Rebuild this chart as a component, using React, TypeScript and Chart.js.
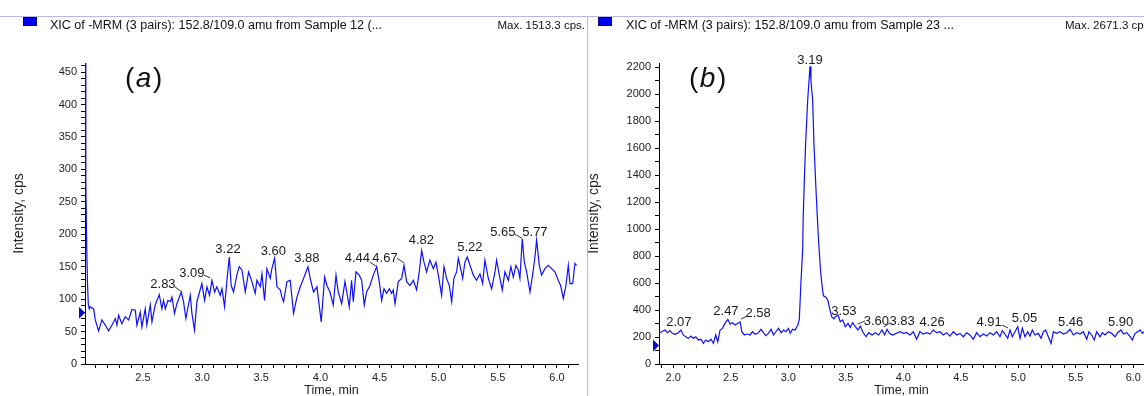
import React, { useEffect, useRef } from 'react';
import { Chart, registerables } from 'chart.js';

Chart.register(...registerables);

const FONT = '"Liberation Sans", Arial, sans-serif';

// ---- Panel (a): time (min), intensity (cps)
const traceA: [number, number][] = [
  [2.011, 1513], [2.017, 280], [2.024, 185], [2.031, 125], [2.038, 92], [2.046, 85], [2.054, 88], [2.083, 85],
  [2.097, 68], [2.125, 51], [2.153, 68], [2.181, 60], [2.209, 51], [2.238, 60], [2.266, 70], [2.280, 60],
  [2.294, 75], [2.322, 62], [2.350, 73], [2.379, 68], [2.407, 84], [2.435, 83], [2.449, 60], [2.477, 80],
  [2.491, 57], [2.519, 85], [2.533, 60], [2.562, 91], [2.576, 65], [2.604, 91], [2.638, 107], [2.660, 85],
  [2.674, 98], [2.689, 85], [2.711, 98], [2.731, 96], [2.745, 103], [2.767, 78], [2.787, 93], [2.824, 111],
  [2.843, 96], [2.863, 70], [2.900, 106], [2.914, 78], [2.936, 52], [2.956, 96], [2.998, 124], [3.021, 98],
  [3.041, 119], [3.063, 106], [3.083, 129], [3.106, 111], [3.125, 119], [3.153, 106], [3.168, 116], [3.190, 88],
  [3.210, 129], [3.230, 165], [3.246, 121], [3.266, 111], [3.294, 137], [3.314, 150], [3.337, 145], [3.365, 111],
  [3.393, 142], [3.421, 127], [3.449, 109], [3.463, 129], [3.492, 119], [3.506, 139], [3.528, 98], [3.548, 147],
  [3.576, 132], [3.590, 147], [3.613, 163], [3.633, 119], [3.661, 114], [3.675, 103], [3.689, 96], [3.717, 127],
  [3.745, 129], [3.773, 78], [3.802, 103], [3.830, 119], [3.858, 132], [3.895, 150], [3.914, 132], [3.942, 111],
  [3.971, 119], [4.007, 65], [4.036, 134], [4.055, 121], [4.081, 111], [4.109, 91], [4.132, 137], [4.151, 111],
  [4.180, 93], [4.208, 127], [4.228, 106], [4.244, 88], [4.264, 129], [4.278, 96], [4.301, 142], [4.329, 137],
  [4.349, 129], [4.371, 91], [4.391, 111], [4.419, 121], [4.447, 137], [4.476, 150], [4.498, 127], [4.518, 98],
  [4.538, 116], [4.560, 109], [4.583, 116], [4.602, 109], [4.616, 114], [4.631, 93], [4.659, 127], [4.687, 132],
  [4.707, 152], [4.729, 127], [4.757, 121], [4.786, 129], [4.814, 114], [4.836, 142], [4.856, 175], [4.876, 157],
  [4.898, 142], [4.926, 160], [4.955, 147], [4.977, 157], [4.997, 137], [5.025, 106], [5.045, 150], [5.067, 132],
  [5.090, 121], [5.110, 96], [5.129, 132], [5.152, 142], [5.166, 163], [5.186, 147], [5.203, 132], [5.222, 157],
  [5.242, 165], [5.265, 152], [5.293, 137], [5.321, 129], [5.349, 139], [5.372, 124], [5.391, 160], [5.420, 132],
  [5.448, 116], [5.476, 142], [5.490, 160], [5.518, 132], [5.538, 114], [5.560, 142], [5.589, 129], [5.611, 150],
  [5.631, 134], [5.653, 152], [5.673, 145], [5.687, 132], [5.707, 193], [5.724, 157], [5.744, 142], [5.772, 111],
  [5.794, 137], [5.814, 165], [5.828, 191], [5.851, 152], [5.870, 137], [5.899, 147], [5.927, 152], [5.955, 147],
  [5.983, 142], [6.011, 129], [6.031, 121], [6.054, 101], [6.076, 121], [6.096, 152], [6.110, 124], [6.133, 124],
  [6.152, 155], [6.166, 152],
];

// ---- Panel (b)
const traceB: [number, number][] = [
  [1.876, 227], [1.899, 239], [1.928, 252], [1.951, 232], [1.971, 247], [1.992, 227], [2.015, 220], [2.044, 232],
  [2.067, 252], [2.087, 215], [2.108, 202], [2.131, 190], [2.154, 207], [2.175, 190], [2.195, 202], [2.218, 178],
  [2.241, 183], [2.262, 153], [2.282, 178], [2.305, 165], [2.328, 183], [2.349, 153], [2.369, 215], [2.387, 165],
  [2.407, 252], [2.427, 264], [2.450, 301], [2.474, 331], [2.494, 296], [2.514, 306], [2.538, 289], [2.561, 301],
  [2.581, 313], [2.596, 239], [2.619, 215], [2.639, 222], [2.668, 215], [2.689, 239], [2.712, 220], [2.735, 227],
  [2.764, 257], [2.784, 232], [2.805, 210], [2.828, 227], [2.851, 257], [2.872, 215], [2.892, 239], [2.915, 264],
  [2.938, 232], [2.959, 252], [2.979, 239], [3.002, 264], [3.017, 227], [3.037, 257], [3.060, 252], [3.083, 289],
  [3.096, 330], [3.110, 600], [3.125, 844], [3.130, 1091], [3.139, 1340], [3.151, 1637], [3.169, 1956], [3.189, 2205],
  [3.197, 2100], [3.212, 1956], [3.223, 1637], [3.241, 1291], [3.261, 946], [3.280, 700], [3.296, 560], [3.306, 505],
  [3.328, 495], [3.345, 470], [3.358, 415], [3.377, 350], [3.397, 335], [3.409, 350], [3.432, 363], [3.452, 313],
  [3.473, 326], [3.496, 276], [3.519, 301], [3.539, 271], [3.560, 306], [3.583, 276], [3.606, 252], [3.627, 281],
  [3.647, 239], [3.676, 202], [3.699, 232], [3.728, 215], [3.757, 232], [3.786, 215], [3.815, 252], [3.838, 215],
  [3.859, 257], [3.879, 227], [3.908, 215], [3.971, 239], [4.000, 227], [4.029, 232], [4.058, 215], [4.087, 239],
  [4.116, 183], [4.145, 239], [4.174, 222], [4.203, 232], [4.232, 222], [4.261, 252], [4.290, 232], [4.319, 239],
  [4.348, 215], [4.377, 232], [4.406, 207], [4.435, 239], [4.464, 215], [4.493, 227], [4.522, 202], [4.551, 232],
  [4.580, 215], [4.609, 183], [4.638, 232], [4.667, 202], [4.696, 222], [4.725, 207], [4.754, 232], [4.783, 215],
  [4.812, 239], [4.841, 202], [4.861, 247], [4.884, 222], [4.908, 190], [4.928, 252], [4.948, 202], [4.971, 239],
  [4.995, 276], [5.015, 190], [5.035, 264], [5.058, 202], [5.082, 239], [5.102, 207], [5.122, 252], [5.145, 215],
  [5.174, 227], [5.198, 190], [5.218, 239], [5.238, 252], [5.261, 202], [5.285, 153], [5.305, 239], [5.334, 227],
  [5.363, 239], [5.392, 222], [5.421, 232], [5.450, 257], [5.479, 215], [5.508, 232], [5.537, 222], [5.566, 239],
  [5.595, 183], [5.615, 239], [5.638, 215], [5.661, 178], [5.682, 239], [5.711, 202], [5.731, 232], [5.754, 215],
  [5.783, 239], [5.812, 227], [5.841, 202], [5.864, 232], [5.893, 252], [5.914, 222], [5.943, 232], [5.972, 202],
  [5.992, 178], [6.015, 227], [6.038, 239], [6.059, 252], [6.079, 227], [6.096, 239],
];

// peak labels: text + position in data units
const peakLabelsA = [
  { text: '2.83', t: 2.669, v: 122 }, { text: '3.09', t: 2.914, v: 140 }, { text: '3.22', t: 3.219, v: 176 },
  { text: '3.60', t: 3.603, v: 173 }, { text: '3.88', t: 3.886, v: 162 }, { text: '4.44', t: 4.313, v: 162 },
  { text: '4.67', t: 4.546, v: 163 }, { text: '4.82', t: 4.854, v: 191 }, { text: '5.22', t: 5.264, v: 179 },
  { text: '5.65', t: 5.543, v: 203 }, { text: '5.77', t: 5.814, v: 203 },
];
const leadersA: [number, number, number, number][] = [
  [2.770, 119, 2.821, 112], [3.016, 137, 3.066, 133], [4.419, 157, 4.470, 151], [4.647, 163, 4.706, 156], [5.645, 200, 5.704, 194],
];
const peakLabelsB = [
  { text: '2.07', t: 2.049, v: 311 }, { text: '2.47', t: 2.458, v: 393 }, { text: '2.58', t: 2.738, v: 378 },
  { text: '3.19', t: 3.189, v: 2252 }, { text: '3.53', t: 3.484, v: 389 }, { text: '3.60', t: 3.766, v: 319 },
  { text: '3.83', t: 3.990, v: 319 }, { text: '4.26', t: 4.250, v: 311 }, { text: '4.91', t: 4.746, v: 311 },
  { text: '5.05', t: 5.054, v: 337 }, { text: '5.46', t: 5.455, v: 311 }, { text: '5.90', t: 5.890, v: 311 },
];
const leadersB: [number, number, number, number][] = [
  [2.641, 356, 2.589, 333], [3.667, 319, 3.606, 296], [3.884, 304, 3.832, 274], [4.858, 289, 4.910, 267],
];

const xRangeA = [2.01, 6.178];
const yRangeA = [0, 464];
const xRangeB = [1.876, 6.093];
const yRangeB = [0, 2230];
const markerA = 79;
const markerB = 137;

const near = (v: number, step: number) => Math.abs(v / step - Math.round(v / step)) < 1e-6;

function overlay(labels: { text: string; t: number; v: number }[], leaders: [number, number, number, number][], marker: number) {
  return {
    id: 'overlay',
    afterDatasetsDraw(chart: any) {
      const { ctx, scales } = chart;
      const x = scales.x, y = scales.y;
      ctx.save();
      ctx.font = `13px ${FONT}`;
      ctx.fillStyle = '#1a1a1a';
      ctx.textAlign = 'center';
      ctx.textBaseline = 'middle';
      labels.forEach((l) => ctx.fillText(l.text, x.getPixelForValue(l.t), y.getPixelForValue(l.v)));
      ctx.strokeStyle = '#333';
      ctx.lineWidth = 1;
      leaders.forEach(([t1, v1, t2, v2]) => {
        ctx.beginPath();
        ctx.moveTo(x.getPixelForValue(t1), y.getPixelForValue(v1));
        ctx.lineTo(x.getPixelForValue(t2), y.getPixelForValue(v2));
        ctx.stroke();
      });
      const my = y.getPixelForValue(marker);
      const ax = chart.chartArea.left;
      ctx.fillStyle = '#0a0acc';
      ctx.beginPath();
      ctx.moveTo(ax - 6, my - 6);
      ctx.lineTo(ax, my);
      ctx.lineTo(ax - 6, my + 6);
      ctx.closePath();
      ctx.fill();
      ctx.restore();
    },
  };
}

function makeConfig(opts: {
  trace: [number, number][]; xr: number[]; yr: number[]; yStep: number; yLabelStep: number;
  yWidth: number; padRight: number; titlePad: number; titleLH: number;
  labels: any[]; leaders: any[]; marker: number;
}): any {
  const tickFont = { size: 11, family: FONT };
  return {
    type: 'line',
    data: {
      datasets: [{
        data: opts.trace.map(([t, v]) => ({ x: t, y: v })),
        borderColor: '#1010ff',
        borderWidth: 1.2,
        pointRadius: 0,
        tension: 0,
        fill: false,
      }],
    },
    options: {
      responsive: false,
      animation: false,
      events: [],
      layout: { padding: { left: 0, right: opts.padRight, top: 33, bottom: 0 } },
      plugins: { legend: { display: false }, tooltip: { enabled: false } },
      scales: {
        x: {
          type: 'linear',
          position: 'bottom',
          min: opts.xr[0],
          max: opts.xr[1],
          ticks: {
            stepSize: 0.1, autoSkip: false, maxRotation: 0, includeBounds: false, padding: 3,
            color: '#222', font: tickFont,
            callback: (v: number) => (near(v, 0.5) ? v.toFixed(1) : ''),
          },
          grid: { display: true, drawOnChartArea: false, drawTicks: true, tickLength: 4, color: '#000' },
          border: { display: true, color: '#000', width: 1 },
          title: { display: true, text: 'Time, min', color: '#222', font: { size: 12.5, family: FONT, lineHeight: 1.2 }, padding: { top: 0, bottom: 1.5 } },
          afterFit: (s: any) => { s.height = 36; },
        },
        y: {
          type: 'linear',
          position: 'left',
          min: opts.yr[0],
          max: opts.yr[1],
          ticks: {
            stepSize: opts.yStep, autoSkip: false, includeBounds: false, padding: 4,
            color: '#222', font: tickFont,
            callback: (v: number) => (near(v, opts.yLabelStep) ? String(v) : ''),
          },
          grid: { display: true, drawOnChartArea: false, drawTicks: true, tickLength: 4, color: '#000' },
          border: { display: true, color: '#000', width: 1 },
          title: { display: true, text: 'Intensity, cps', color: '#222', font: { size: 14, family: FONT, lineHeight: opts.titleLH }, padding: { top: opts.titlePad, bottom: 0 } },
          afterFit: (s: any) => { s.width = opts.yWidth; },
        },
      },
    },
    plugins: [overlay(opts.labels, opts.leaders, opts.marker)],
  };
}

function Panel(props: { left: number; width: number; config: any }) {
  const ref = useRef<HTMLCanvasElement | null>(null);
  useEffect(() => {
    if (!ref.current) return;
    const chart = new Chart(ref.current, props.config);
    return () => chart.destroy();
  }, []);
  return (
    <canvas
      ref={ref}
      width={props.width}
      height={370}
      style={{ position: 'absolute', left: props.left, top: 30, width: props.width, height: 370 }}
    />
  );
}

const sepColor = '#b8b8e8';
const headerText: React.CSSProperties = { position: 'absolute', top: 18, fontSize: 12.5, color: '#111', whiteSpace: 'nowrap', fontFamily: FONT, lineHeight: '14px' };
const maxText: React.CSSProperties = { ...headerText, fontSize: 11.5 };
const square: React.CSSProperties = { position: 'absolute', top: 17, width: 12, height: 7, background: '#0000ee', border: '1px solid #000080' };
const panelTag: React.CSSProperties = { position: 'absolute', fontSize: 28, color: '#111', fontFamily: FONT, lineHeight: '32px', whiteSpace: 'nowrap', letterSpacing: 1.5 };

export default function App() {
  const cfgA = makeConfig({
    trace: traceA, xr: xRangeA, yr: yRangeA, yStep: 10, yLabelStep: 50, yWidth: 85, padRight: 9,
    titlePad: 10.6, titleLH: 1.2, labels: peakLabelsA, leaders: leadersA, marker: markerA,
  });
  const cfgB = makeConfig({
    trace: traceB, xr: xRangeB, yr: yRangeB, yStep: 100, yLabelStep: 200, yWidth: 72, padRight: 0,
    titlePad: 0, titleLH: 1.0, labels: peakLabelsB, leaders: leadersB, marker: markerB,
  });
  return (
    <div style={{ position: 'fixed', left: 0, top: 0, width: 1144, height: 396, overflow: 'hidden', background: '#fff', fontFamily: FONT }}>
      <Panel left={0} width={587} config={cfgA} />
      <Panel left={587} width={557} config={cfgB} />
      <div style={{ position: 'absolute', left: 0, top: 16, width: 1144, height: 1, background: sepColor }} />
      <div style={{ position: 'absolute', left: 587, top: 16, width: 1, height: 380, background: sepColor }} />
      <div style={{ ...square, left: 23 }} />
      <div style={{ ...headerText, left: 50 }}>XIC of -MRM (3 pairs): 152.8/109.0 amu from Sample 12 (...</div>
      <div style={{ ...maxText, left: 380, width: 205, textAlign: 'right' }}>Max. 1513.3 cps.</div>
      <div style={{ ...square, left: 598 }} />
      <div style={{ ...headerText, left: 626 }}>XIC of -MRM (3 pairs): 152.8/109.0 amu from Sample 23 ...</div>
      <div style={{ ...maxText, left: 1065 }}>Max. 2671.3 cps.</div>
      <div style={{ ...panelTag, left: 125, top: 62 }}>(<i>a</i>)</div>
      <div style={{ ...panelTag, left: 689, top: 62 }}>(<i>b</i>)</div>
    </div>
  );
}
